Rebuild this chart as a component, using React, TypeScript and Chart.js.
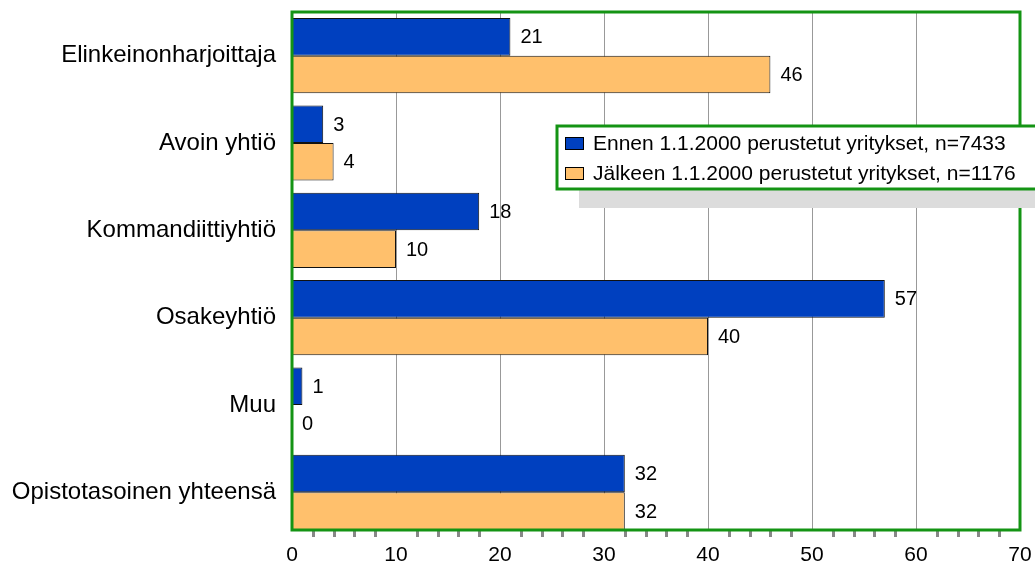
import React, { useEffect, useRef } from "react";
import { Chart, registerables } from "chart.js";

Chart.register(...registerables);

const categories = [
  "Elinkeinonharjoittaja",
  "Avoin yhtiö",
  "Kommandiittiyhtiö",
  "Osakeyhtiö",
  "Muu",
  "Opistotasoinen yhteensä",
];
const seriesNames = [
  "Ennen 1.1.2000 perustetut yritykset, n=7433",
  "Jälkeen 1.1.2000 perustetut yritykset, n=1176",
];
const before2000 = [21, 3, 18, 57, 1, 32];
const after2000 = [46, 4, 10, 40, 0, 32];
const xTicks = [0, 10, 20, 30, 40, 50, 60, 70];

const COLORS = ["#0040bf", "#ffc06c"];
const GREEN = "#149414";
const FONT = "'Liberation Sans', Arial, sans-serif";
const BOTTOM_INSET = 6;

const decorPlugin = {
  id: "decor",
  beforeDatasetsDraw(chart: any) {
    const ctx = chart.ctx;
    const a = chart.chartArea;
    const xs = chart.scales.x;
    ctx.save();
    ctx.strokeStyle = "#999";
    ctx.lineWidth = 1;
    xTicks.forEach((v) => {
      const px = Math.round(xs.getPixelForValue(v)) + 0.5;
      ctx.beginPath();
      ctx.moveTo(px, a.top);
      ctx.lineTo(px, a.bottom - BOTTOM_INSET);
      ctx.stroke();
    });
    ctx.restore();
  },
  afterDatasetsDraw(chart: any) {
    const ctx = chart.ctx;
    ctx.save();
    ctx.font = `20px ${FONT}`;
    ctx.fillStyle = "#000";
    ctx.textBaseline = "middle";
    ctx.textAlign = "left";
    chart.data.datasets.forEach((ds: any, di: number) => {
      const meta = chart.getDatasetMeta(di);
      meta.data.forEach((bar: any, i: number) => {
        ctx.fillText(String(ds.data[i]), bar.x + 10, bar.y + 1);
      });
    });
    ctx.restore();
  },
  afterDraw(chart: any) {
    const ctx = chart.ctx;
    const a = chart.chartArea;
    const xs = chart.scales.x;
    const bottom = a.bottom - BOTTOM_INSET;
    ctx.save();
    // clear below border
    ctx.fillStyle = "#fff";
    ctx.fillRect(a.left - 2, bottom, a.right - a.left + 4, BOTTOM_INSET + 1);
    // minor ticks
    ctx.fillStyle = "#888";
    for (let v = 2; v < 70; v += 2) {
      if (v % 10 === 0) continue;
      const px = xs.getPixelForValue(v);
      ctx.fillRect(Math.round(px) - 1, bottom + 1, 3, 6);
    }
    // plot border
    ctx.strokeStyle = GREEN;
    ctx.lineWidth = 3;
    ctx.strokeRect(a.left, a.top, a.right - a.left, bottom - a.top);
    // legend
    const lx = 557, ly = 126, lw = 490, lh = 63;
    ctx.fillStyle = "#dcdcdc";
    ctx.fillRect(579, ly + lh, 460, 19);
    ctx.fillStyle = "#fff";
    ctx.fillRect(lx, ly, lw, lh);
    ctx.strokeStyle = GREEN;
    ctx.lineWidth = 3;
    ctx.strokeRect(lx, ly, lw, lh);
    ctx.font = `21px ${FONT}`;
    ctx.textBaseline = "middle";
    ctx.textAlign = "left";
    const rowY = [143, 173];
    seriesNames.forEach((name, i) => {
      ctx.fillStyle = COLORS[i];
      ctx.fillRect(565, rowY[i] - 6, 19, 13);
      ctx.strokeStyle = "#000";
      ctx.lineWidth = 1;
      ctx.strokeRect(565.5, rowY[i] - 5.5, 18, 12);
      ctx.fillStyle = "#000";
      ctx.fillText(name, 593, rowY[i] + 1);
    });
    ctx.restore();
  },
};

export default function App() {
  const ref = useRef<HTMLCanvasElement>(null);
  useEffect(() => {
    document.body.style.margin = "0";
    const chart = new Chart(ref.current!, {
      type: "bar",
      data: {
        labels: categories,
        datasets: [
          {
            label: seriesNames[0],
            data: before2000,
            backgroundColor: COLORS[0],
            borderColor: "#111",
            borderWidth: 1,
            categoryPercentage: 0.86,
            barPercentage: 1,
          },
          {
            label: seriesNames[1],
            data: after2000,
            backgroundColor: COLORS[1],
            borderColor: "#111",
            borderWidth: 1,
            categoryPercentage: 0.86,
            barPercentage: 1,
          },
        ],
      },
      options: {
        indexAxis: "y",
        animation: false,
        responsive: false,
        maintainAspectRatio: false,
        layout: { padding: { top: 12, right: 15, left: 0, bottom: 0 } },
        plugins: { legend: { display: false }, tooltip: { enabled: false } },
        scales: {
          x: {
            min: 0,
            max: 70,
            afterBuildTicks: (s: any) => {
              s.ticks = xTicks.map((v) => ({ value: v }));
            },
            grid: { display: false, drawTicks: false },
            border: { display: false },
            ticks: { color: "#000", font: { size: 21, family: FONT }, padding: 13 - BOTTOM_INSET },
            afterFit: (s: any) => {
              s.height = 44 - BOTTOM_INSET;
              s.paddingLeft = 0;
              s.paddingRight = 0;
            },
          },
          y: {
            grid: { display: false, drawTicks: false },
            border: { display: false },
            ticks: { color: "#000", font: { size: 24, family: FONT }, padding: 16 },
            afterFit: (s: any) => {
              s.width = 292;
              s.paddingTop = 0;
              s.paddingBottom = 0;
            },
          },
        },
      },
      plugins: [decorPlugin],
    });
    return () => chart.destroy();
  }, []);
  return (
    <div style={{ width: 1035, height: 574 }}>
      <canvas ref={ref} width={1035} height={574} />
    </div>
  );
}
